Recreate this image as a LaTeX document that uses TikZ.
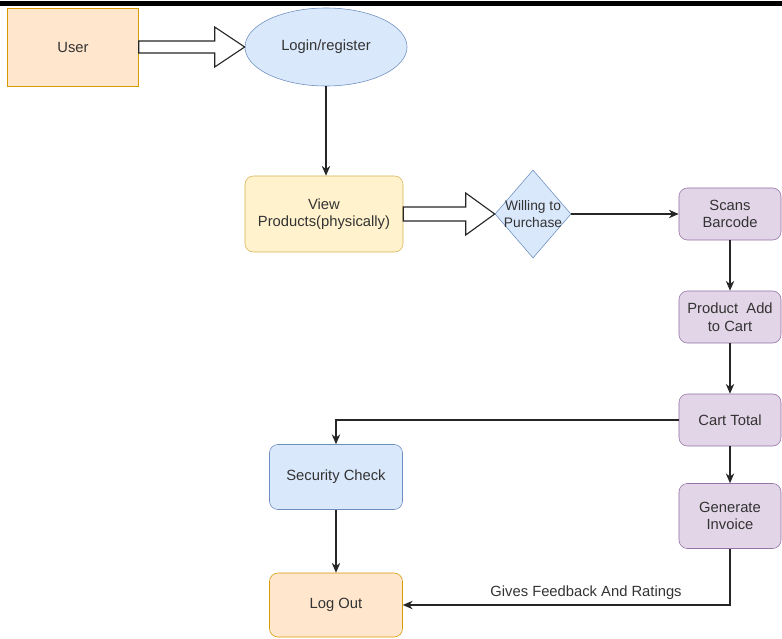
\documentclass[tikz,border=0pt]{standalone}
\usepackage{fontspec}
\setmainfont{Liberation Sans}
\usepackage{tikz}
\usetikzlibrary{shapes.geometric}
\usetikzlibrary{positioning}
\usetikzlibrary{arrows.meta}
\usetikzlibrary{calc}

\definecolor{orfill}{HTML}{FFE6CC}
\definecolor{orline}{HTML}{D79B00}
\definecolor{ylfill}{HTML}{FFF2CC}
\definecolor{ylline}{HTML}{D6B656}
\definecolor{blfill}{HTML}{DAE8FC}
\definecolor{blline}{HTML}{6C8EBF}
\definecolor{pufill}{HTML}{E1D5E7}
\definecolor{puline}{HTML}{9673A6}
\definecolor{txt}{HTML}{333333}

\begin{document}
\begin{tikzpicture}[x=0.025cm, y=-0.025cm, font=\fontsize{10.5}{12.5}\selectfont]
	\tikzset{
		usernode/.style={rectangle, draw=orline, fill=orfill, thin, text=txt, align=center, minimum width=3.275cm, minimum height=1.95cm},
		loginnode/.style={ellipse, draw=blline, fill=blfill, thin, text=txt, minimum width=4.05cm, minimum height=1.95cm},
		viewnode/.style={rectangle, rounded corners=6pt, draw=ylline, fill=ylfill, thin, text=txt, align=center, minimum width=3.95cm, minimum height=1.9cm},
		decnode/.style={diamond, draw=blline, fill=blfill, thin, text=txt, align=center, inner sep=-3pt, aspect=0.84, minimum width=1.9cm, minimum height=2.2cm, font=\fontsize{9.8}{11.5}\selectfont},
		cartnode/.style={rectangle, rounded corners=6pt, draw=puline, fill=pufill, thin, text=txt, align=center, minimum width=2.55cm, minimum height=1.3cm},
		checknode/.style={rectangle, rounded corners=6pt, draw=blline, fill=blfill, thin, text=txt, align=center, minimum width=3.325cm, minimum height=1.625cm},
		outnode/.style={rectangle, rounded corners=6pt, draw=orline, fill=orfill, thin, text=txt, align=center, minimum width=3.325cm, minimum height=1.6cm},
		flow/.style={-{Stealth[length=7pt, width=6pt]}, line width=0.8pt, black!85},
		hollow/.style={draw=black!85, line width=0.8pt, fill=white, line join=miter},
	}
	\useasboundingbox (0,0) rectangle (782,638);
	\fill[black] (0,1) rectangle (782,6);

	\node[usernode] (user) at (73,47) {User};
	\node[loginnode] (login) at (326,47) {Login/register};
	\node[viewnode] (view) at (324,214) {View\\Products(physically)};
	\node[decnode] (willing) at (533,214) {Willing to\\Purchase};

	\node[cartnode] (scan) at (730,214) {Scans\\Barcode};
	\node[cartnode] (prod) at (730,317) {Product\ \ Add\\to Cart};
	\node[cartnode] (total) at (730,420) {Cart Total};
	\node[cartnode, minimum height=1.625cm] (invoice) at (730,516) {Generate\\Invoice};

	\node[checknode] (check) at (336,477) {Security Check};
	\node[outnode] (logout) at (336,605) {Log Out};

	% block arrows
	\draw[hollow] ($(user.east)+(0,-6)$) -- ($(login.west)+(-30,-6)$) -- ++(0,-14) -- (login.west)
		-- ++(-30,20) -- ++(0,-14) -- ($(user.east)+(0,6)$) -- cycle;
	\draw[hollow] ($(view.east)+(0,-7)$) -- ($(willing.west)+(-29,-7)$) -- ++(0,-14) -- (willing.west)
		-- ++(-29,21) -- ++(0,-14) -- ($(view.east)+(0,7)$) -- cycle;

	\draw[flow] (login.south) -- (login.south |- view.north);
	\draw[flow] (willing.east) -- (scan.west);
	\draw[flow] (scan.south) -- (prod.north);
	\draw[flow] (prod.south) -- (total.north);
	\draw[flow] (total.south) -- (invoice.north);
	\draw[flow] (total.west) -| (check.north);
	\draw[flow] (check.south) -- (logout.north);
	\draw[flow] (invoice.south) |- node[pos=0.72, above, text=txt] {Gives Feedback And Ratings} (logout.east);
\end{tikzpicture}
\end{document}
